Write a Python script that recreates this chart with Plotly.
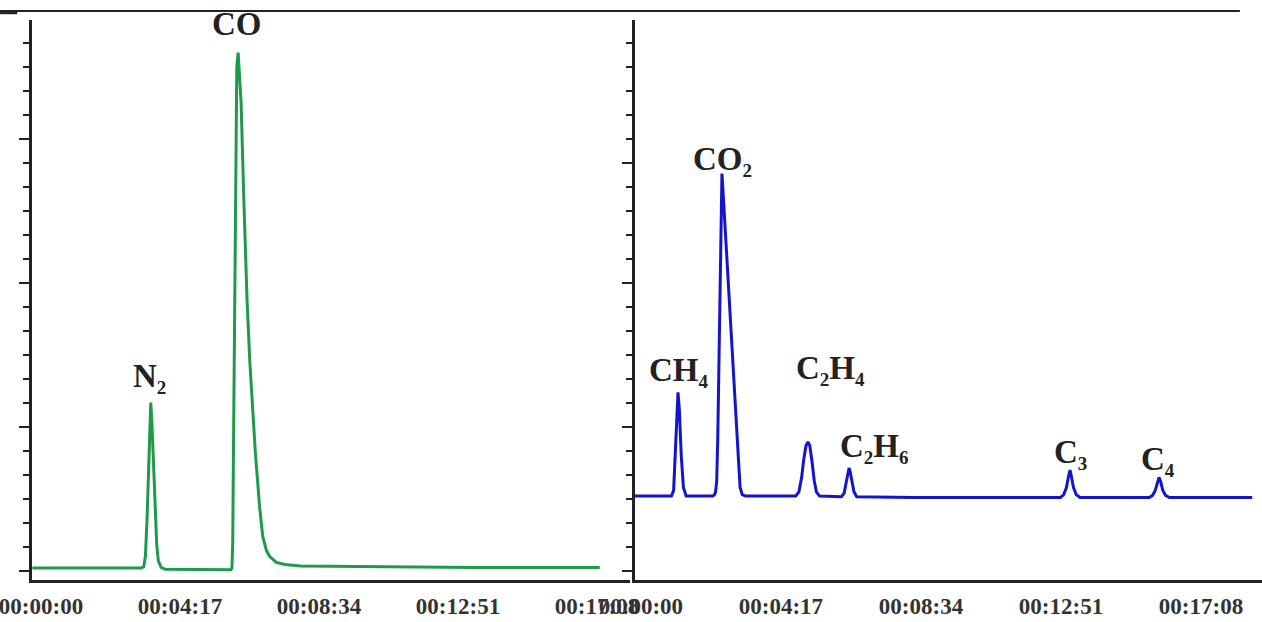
import plotly.graph_objects as go

# ---------------- data (time in s, signal in arbitrary units) ----------------
left_t = [-16, 100, 185, 190, 193, 196, 199, 201.5, 203, 205, 208, 211, 214, 217, 222, 230,
          300, 351, 353, 354.5, 356, 358, 360, 362, 364.5, 367, 370, 375, 381, 386, 396,
          404, 410, 417, 423, 435, 451, 480, 600, 800, 1033]
left_v = [2, 2, 2, 3, 10, 35, 75, 105, 117, 104, 70, 40, 18, 7, 2.5, 1.2,
          0.8, 0.8, 2, 20, 90, 200, 300, 350, 360, 345, 325, 258, 188, 146, 84,
          45, 24, 14, 10, 6, 4.5, 3.5, 3, 2.5, 2.5]

right_t = [-11, 30, 56, 60, 63, 66, 68, 70.5, 74, 78, 83,
           132, 135, 137, 139, 141, 143, 145, 147, 148.7, 152, 157, 163, 169, 175, 179, 182, 186, 192,
           250, 284, 290, 295, 299, 303, 306.6, 310, 314, 318, 322, 328,
           368, 373, 377, 380, 382, 384, 387, 391, 396,
           500, 700, 770, 776, 781, 785, 787.6, 790, 794, 799, 806,
           933, 939, 944, 948, 951, 954, 958, 963, 970, 1050, 1122]
right_v = [52, 52, 52, 56, 80, 112, 124, 112, 80, 58, 52,
           52, 53, 55, 62, 92, 140, 188, 236, 276, 255, 222, 182, 140, 100, 72, 58, 53, 52,
           52, 52, 55, 65, 78, 87, 89.6, 87, 76, 63, 55, 52,
           51.5, 54, 62, 69, 71.5, 69, 62, 55, 51.5,
           51, 51, 51, 53, 58, 66, 70, 66, 58, 53, 51,
           51, 52.5, 56, 62, 65, 62, 56, 52.5, 51, 51, 51]

x_tickvals = [0, 257, 514, 771, 1028]
x_ticktext = ["00:00:00", "00:04:17", "00:08:34", "00:12:51", "00:17:08"]

left_major = [0, 100, 200, 300]
right_major = [0, 100, 200, 283.33]


def sub(d):
    return "<sub><span style='font-size:19px'>" + d + "</span></sub>"


left_labels = [("N" + sub("2"), 201.5, 134), ("CO", 362, 380)]
right_labels = [("CH" + sub("4"), 69.8, 138), ("CO" + sub("2"), 150.5, 284.7),
                ("C" + sub("2") + "H" + sub("4"), 348.8, 139.6),
                ("C" + sub("2") + "H" + sub("6"), 429.6, 85.4),
                ("C" + sub("3"), 787.6, 81), ("C" + sub("4"), 949, 76.4)]

# ---------------- figure ----------------
SERIF = "Liberation Serif"
AX = "#222222"

fig = go.Figure()
fig.add_trace(go.Scatter(x=left_t, y=left_v, mode="lines", xaxis="x", yaxis="y",
                         line=dict(color="#1f9a4c", width=3), showlegend=False))
fig.add_trace(go.Scatter(x=right_t, y=right_v, mode="lines", xaxis="x2", yaxis="y2",
                         line=dict(color="#1414cc", width=3), showlegend=False))

xcommon = dict(showgrid=False, zeroline=False, showline=True, linewidth=3, linecolor=AX,
               automargin=False, ticklabeloverflow="allow",
               tickmode="array", tickvals=x_tickvals, ticktext=x_ticktext, ticks="",
               ticklabelstandoff=3,
               tickfont=dict(family=SERIF, size=23, color="#333333", weight="bold"))
ycommon = dict(showgrid=False, zeroline=False, showline=True, linewidth=3, linecolor=AX,
               automargin=False,
               range=[-6.25, 382.6], tickmode="array", showticklabels=False,
               ticks="outside", ticklen=10, tickwidth=2, tickcolor=AX,
               minor=dict(ticks="outside", ticklen=6, tickwidth=2, tickcolor=AX,
                          tickmode="linear", tick0=0, dtick=100 / 6))

fig.update_layout(
    width=1262, height=622,
    margin=dict(l=32, r=0, t=20, b=42, autoexpand=False),
    paper_bgcolor="white", plot_bgcolor="white",
    xaxis=dict(domain=[0, 0.4862], range=[-16.6, 1089], anchor="y", **xcommon),
    xaxis2=dict(domain=[0.4902, 1], range=[-11, 1140], anchor="y2", **xcommon),
    yaxis=dict(anchor="x", tickvals=left_major, **ycommon),
    yaxis2=dict(anchor="x2", tickvals=right_major, **ycommon),
)

for txt, x, y in left_labels:
    fig.add_annotation(x=x, y=y, xref="x", yref="y", text=txt, showarrow=False,
                       font=dict(family=SERIF, size=33, color="#222222", weight="bold"))
for txt, x, y in right_labels:
    fig.add_annotation(x=x, y=y, xref="x2", yref="y2", text=txt, showarrow=False,
                       font=dict(family=SERIF, size=33, color="#222222", weight="bold"))

# top rule of the page
fig.add_shape(type="line", xref="paper", yref="paper", x0=-0.026, x1=0.982,
              y0=1.016, y1=1.016, line=dict(color="#222222", width=2))
fig.add_shape(type="line", xref="paper", yref="paper", x0=-0.026, x1=-0.012,
              y0=1.013, y1=1.013, line=dict(color="#222222", width=3))

fig.write_html("out.html", config={"displayModeBar": False},
               post_script="document.body.style.margin='0';document.body.style.overflow='hidden';")
